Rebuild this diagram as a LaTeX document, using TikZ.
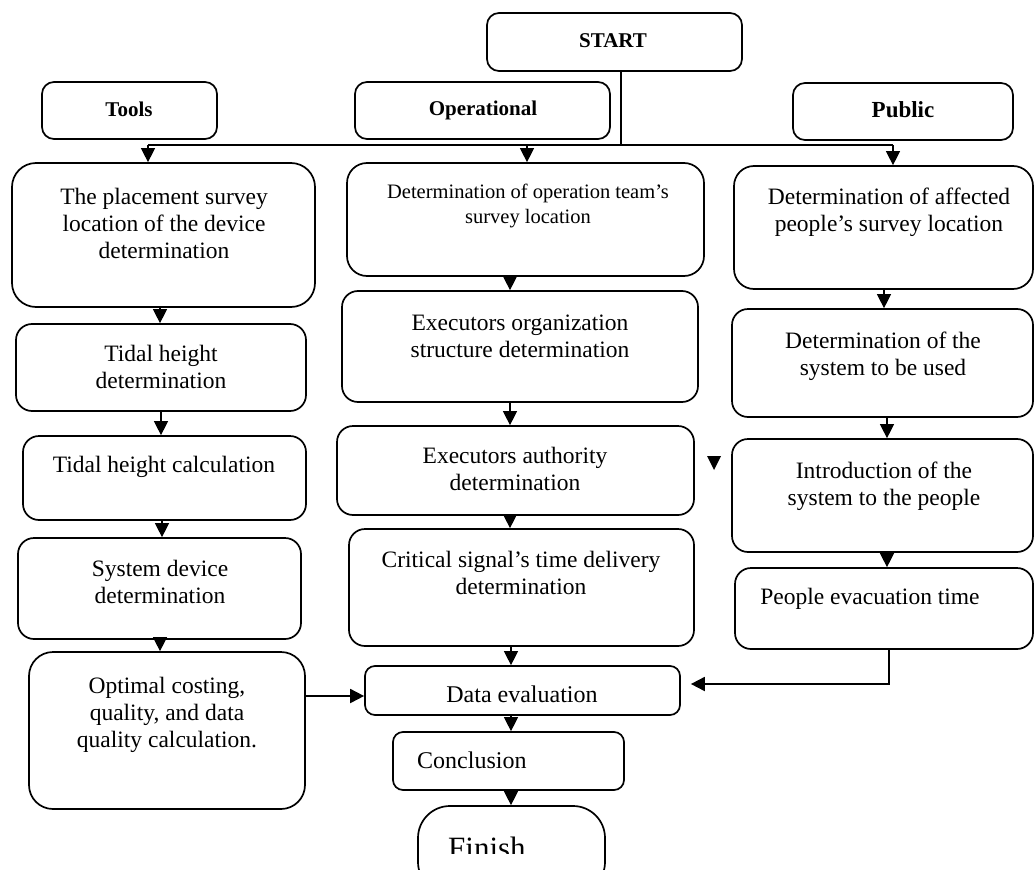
\documentclass[tikz,border=0pt]{standalone}
\usepackage{fontspec}
\setmainfont{Liberation Serif}
\usetikzlibrary{arrows.meta}
\newcommand\bx[6][]{\node[box,#1,minimum width={#4pt-#2pt},minimum height={#5pt-#3pt}] (#6) at ({(#2+#4)/2},{(#3+#5)/2}) {};}
\begin{document}
\begin{tikzpicture}[x=1pt,y=-1pt,
  box/.style={draw, line width=1.7pt, rounded corners=16pt, inner sep=0pt},
  txt/.style={inner sep=0pt, align=center, anchor=north, font=\fontsize{23.5}{27}\selectfont},
  smalltxt/.style={inner sep=0pt, align=center, anchor=north, font=\fontsize{20.5}{25}\selectfont},
  lbl/.style={inner sep=0pt, anchor=base, font=\bfseries\fontsize{21}{25}\selectfont},
  ln/.style={line width=1.2pt},
  arr/.style={line width=1.2pt, -{Triangle[width=14pt,length=14pt]}}]
\useasboundingbox (0,0) rectangle (1034,870);
\clip (0,0) rectangle (1034,870);
% header boxes
\bx[rounded corners=12pt]{487}{13}{742}{71}{START}
\bx[rounded corners=12pt]{42}{82}{217}{139}{TOOLS}
\bx[rounded corners=12pt]{355}{82}{610}{139}{OPER}
\bx[rounded corners=12pt]{793}{83}{1013}{140}{PUB}
\node[lbl] (tSTART) at (613,47) {START};
\node[lbl] (tTOOLS) at (129,116) {Tools};
\node[lbl] (tOPER) at (483,115) {Operational};
\node[lbl,font=\bfseries\fontsize{23}{27}\selectfont] (tPUB) at (903,117) {Public};
% left column
\bx[rounded corners=24pt]{12}{163}{315}{307}{L1}
\bx{16}{324}{306}{411}{L2}
\bx{23}{436}{306}{520}{L3}
\bx{18}{538}{301}{639}{L4}
\bx[rounded corners=24pt]{29}{652}{305}{809}{L5}
% middle column
\bx[rounded corners=20pt]{347}{163}{704}{276}{M1}
\bx{342}{291}{698}{402}{M2}
\bx{337}{426}{694}{515}{M3}
\bx{349}{529}{694}{646}{M4}
\bx[rounded corners=10pt]{365}{666}{680}{715}{DE}
\bx[rounded corners=10pt]{393}{732}{624}{790}{CO}
\bx[rounded corners=32pt]{418}{806}{605}{894}{FI}
% right column
\bx[rounded corners=20pt]{734}{166}{1033}{289}{R1}
\bx{732}{309}{1033}{417}{R2}
\bx{732}{439}{1033}{552}{R3}
\bx{735}{568}{1033}{649}{R4}
% texts
\node[txt] (tL1) at (164,{204-18.9}) {\strut The placement survey\\\strut location of the device\\\strut determination};
\node[txt] (tL2) at (161,{361-18.9}) {\strut Tidal height\\\strut determination};
\node[txt] (tL3) at (164,{472-18.9}) {\strut Tidal height calculation};
\node[txt] (tL4) at (160,{576-18.9}) {\strut System device\\\strut determination};
\node[txt] (tL5) at (167,{693-18.9}) {\strut Optimal costing,\\\strut quality, and data\\\strut quality calculation.};
\node[smalltxt] (tM1) at (528,{198-17.5}) {\strut Determination of operation team’s\\\strut survey location};
\node[txt] (tM2) at (520,{330-18.9}) {\strut Executors organization\\\strut structure determination};
\node[txt] (tM3) at (515,{463-18.9}) {\strut Executors authority\\\strut determination};
\node[txt] (tM4) at (521,{567-18.9}) {\strut Critical signal’s time delivery\\\strut determination};
\node[txt] (tR1) at (889,{204-18.9}) {\strut Determination of affected\\\strut people’s survey location};
\node[txt] (tR2) at (883,{348-18.9}) {\strut Determination of the\\\strut system to be used};
\node[txt] (tR3) at (884,{478-18.9}) {\strut Introduction of the\\\strut system to the people};
\node[txt] (tR4) at (870,{604-18.9}) {\strut People evacuation time};
\node[inner sep=0pt, anchor=base, font=\fontsize{24}{28}\selectfont] (tDE) at (522,702) {Data evaluation};
\node[inner sep=0pt, anchor=base west, font=\fontsize{24}{28}\selectfont] (tCO) at (417,768) {Conclusion};
\begin{scope}
\clip (420,800) rectangle (600,853);
\node[inner sep=0pt, anchor=base west, font=\fontsize{31}{36}\selectfont] (tFI) at (448,858) {Finish};
\end{scope}
% top distribution
\coordinate (hub) at (621,145);
\coordinate (hl) at (148,145);
\coordinate (hm) at (527,145);
\coordinate (hr) at (893,145);
\draw[ln] (START.south -| hub) -- (hub);
\draw[ln] (hl) -- (hr);
\draw[arr] (hl) -- (L1.north -| hl);
\draw[arr] (hm) -- (M1.north -| hm);
\draw[arr] (hr) -- (R1.north -| hr);
% left column arrows
\draw[arr] (L1.south -| 160,0) -- (L2.north -| 160,0);
\draw[arr] (L2.south -| 161,0) -- (L3.north -| 161,0);
\draw[arr] (L3.south -| 162,0) -- (L4.north -| 162,0);
\draw[arr] (L4.south -| 160,0) -- (L5.north -| 160,0);
% middle column arrows
\draw[arr] (M1.south -| 510,0) -- (M2.north -| 510,0);
\draw[arr] (M2.south -| 510,0) -- (M3.north -| 510,0);
\draw[arr] (M3.south -| 510,0) -- (M4.north -| 510,0);
\draw[arr] (M4.south -| 511,0) -- (DE.north -| 511,0);
\draw[arr] (DE.south -| 511,0) -- (CO.north -| 511,0);
\draw[arr] (CO.south -| 511,0) -- (FI.north -| 511,0);
% right column arrows
\draw[arr] (R1.south -| 884,0) -- (R2.north -| 884,0);
\draw[arr] (R2.south -| 887,0) -- (R3.north -| 887,0);
\draw[arr] (R3.south -| 887,0) -- (R4.north -| 887,0);
% into data evaluation
\draw[arr, line width=1.8pt] (L5.east |- 0,696) -- (DE.west |- 0,696);
\coordinate (rk) at (889,684);
\draw[arr, line width=1.8pt] (R4.south -| rk) |- ([xshift=10pt]DE.east |- rk);
% stray arrowhead
\fill (707,456) -- (721,456) -- (714,470) -- cycle;
\end{tikzpicture}
\end{document}
